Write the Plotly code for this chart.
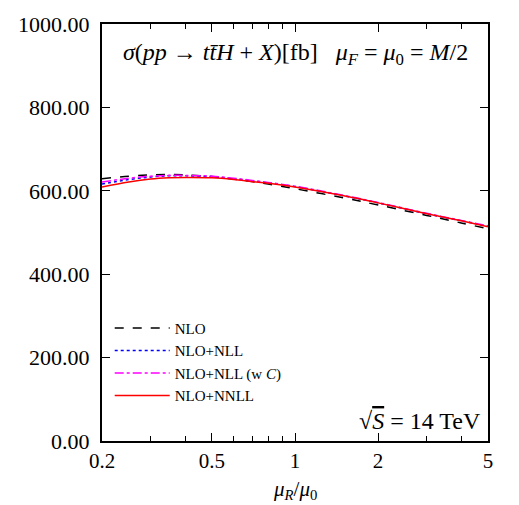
import plotly.graph_objects as go

mu = [0.2, 0.25, 0.3, 0.35, 0.4, 0.5, 0.6, 0.7, 0.8, 1.0, 1.5, 2.0, 3.0, 4.0, 5.0]
nlo = [629, 635, 638, 639, 638, 634, 628, 622, 616, 605, 583, 566, 541, 523, 509]
nlo_nll = [616, 627, 633, 636, 636, 634, 629, 624, 619, 610, 588, 571, 545, 528, 515]
nlo_nll_c = [621, 630, 635, 637, 637, 635, 630, 625, 620, 611, 589, 572, 546, 529, 516]
nlo_nnll = [609, 621, 628, 631, 632, 631, 627, 622, 618, 609, 588, 571, 545, 528, 514]

x_major = [0.2, 0.5, 1, 2, 5]
x_major_text = ["0.2", "0.5", "1", "2", "5"]
x_minor = [0.3, 0.4, 0.6, 0.7, 0.8, 0.9, 3, 4]
y_ticks = [0, 200, 400, 600, 800, 1000]
y_text = ["0.00", "200.00", "400.00", "600.00", "800.00", "1000.00"]

FONT = "Liberation Serif"
XR = [-0.69897, 0.69897]

fig = go.Figure()
series = [
    ("NLO", nlo, "black", "dash"),
    ("NLO+NLL", nlo_nll, "blue", "dot"),
    ("NLO+NLL (w <i>C</i>)", nlo_nll_c, "magenta", "dashdot"),
    ("NLO+NNLL", nlo_nnll, "red", "solid"),
]
for name, ys, col, dash in series:
    fig.add_trace(go.Scatter(x=mu, y=ys, mode="lines", name=name, line_shape="spline",
                             line=dict(color=col, dash=dash, width=1.5)))
# invisible trace to carry the minor-tick axis
fig.add_trace(go.Scatter(x=[mu[0]], y=[nlo[0]], xaxis="x2", mode="lines", showlegend=False,
                         hoverinfo="skip", line=dict(width=0)))

fig.update_layout(
    width=519, height=505,
    margin=dict(l=102, r=31, t=22, b=64),
    plot_bgcolor="white", paper_bgcolor="white",
    font=dict(family=FONT, color="black", size=22),
    showlegend=True,
    legend=dict(x=0.02, y=0.31, xanchor="left", yanchor="top", bgcolor="rgba(0,0,0,0)",
                font=dict(size=15, family=FONT), tracegroupgap=0, itemwidth=55),
    xaxis=dict(type="log", range=XR, tickmode="array",
               tickvals=x_major, ticktext=x_major_text, ticks="inside", ticklen=8, tickwidth=1.2,
               tickcolor="black", tickfont=dict(size=21),
               showline=True, linecolor="black", linewidth=2, mirror="ticks", showgrid=False,
               zeroline=False),
    xaxis2=dict(type="log", range=XR, overlaying="x", side="bottom", tickmode="array",
                tickvals=x_minor, ticks="inside", ticklen=5, tickwidth=1.2, showticklabels=False,
                tickcolor="black",
                showline=True, linecolor="black", linewidth=2, mirror="ticks", showgrid=False,
                zeroline=False),
    yaxis=dict(range=[0, 1000], tickmode="array", tickvals=y_ticks, ticktext=y_text,
               ticks="inside", ticklen=8, tickwidth=1.2, tickcolor="black", showline=True,
               linecolor="black", linewidth=2, mirror="ticks", showgrid=False, zeroline=False,
               ticklabelstandoff=6),
)

fig.add_annotation(x=0.5, y=-0.118, xref="paper", yref="paper", yanchor="middle", showarrow=False,
                   text="<i>μ<sub>R</sub></i>/<i>μ</i><sub>0</sub>", font=dict(size=21))
fig.add_annotation(x=0.5, y=0.929, xref="paper", yref="paper", yanchor="middle", showarrow=False,
                   text="<i>σ</i>(<i>pp</i> → <i>tt̄H</i> + <i>X</i>)[fb]   <i>μ<sub>F</sub></i> = <i>μ</i><sub>0</sub> = <i>M</i>/2",
                   font=dict(size=24))
fig.add_annotation(x=0.988, y=0.048, xref="paper", yref="paper", xanchor="right", yanchor="middle",
                   showarrow=False,
                   text="√<span style='text-decoration:overline'><i>S</i></span> = 14 TeV",
                   font=dict(size=24))

fig.write_html("out.html")
